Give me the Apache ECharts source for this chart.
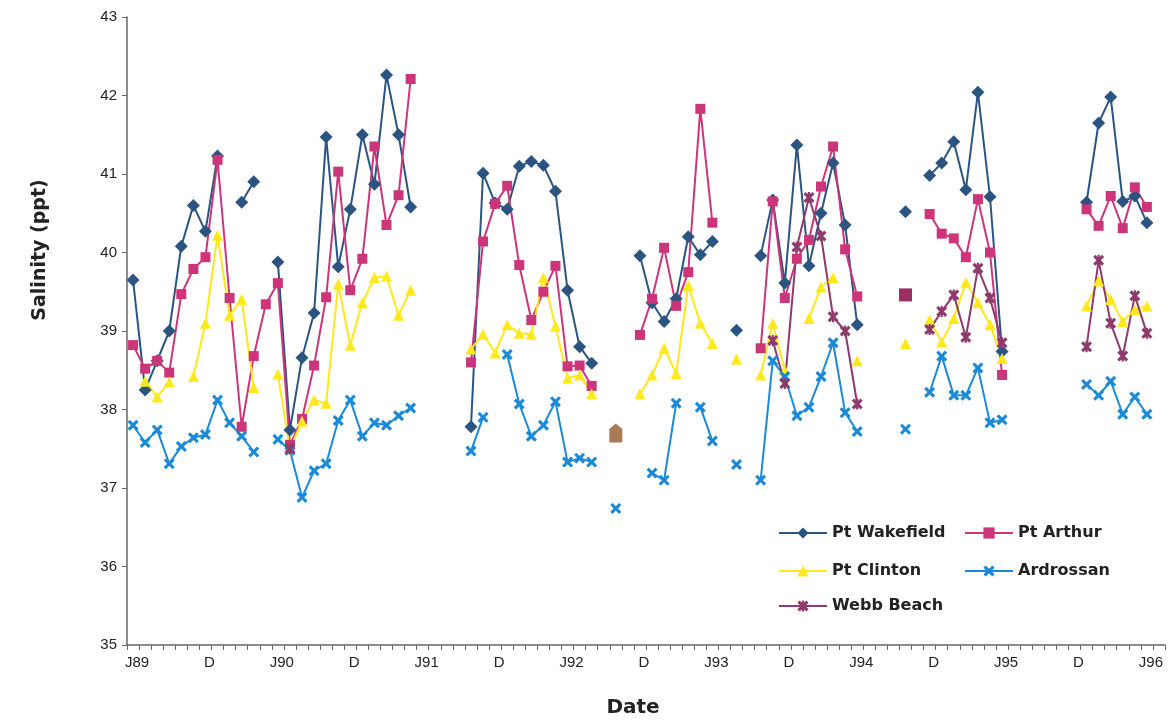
<!DOCTYPE html>
<html><head><meta charset="utf-8">
<script src="https://cdn.jsdelivr.net/npm/echarts@6/dist/echarts.min.js"></script>
<style>html,body{margin:0;padding:0;background:#fff}#c{width:1171px;height:725px}</style>
</head><body><div id="c"></div>
<script>
const N = null;
// Monthly categories, Jun 1989 .. Jul 1996
const categories = [
 'Jun-89','Jul-89','Aug-89','Sep-89','Oct-89','Nov-89','Dec-89',
 'Jan-90','Feb-90','Mar-90','Apr-90','May-90','Jun-90','Jul-90','Aug-90','Sep-90','Oct-90','Nov-90','Dec-90',
 'Jan-91','Feb-91','Mar-91','Apr-91','May-91','Jun-91','Jul-91','Aug-91','Sep-91','Oct-91','Nov-91','Dec-91',
 'Jan-92','Feb-92','Mar-92','Apr-92','May-92','Jun-92','Jul-92','Aug-92','Sep-92','Oct-92','Nov-92','Dec-92',
 'Jan-93','Feb-93','Mar-93','Apr-93','May-93','Jun-93','Jul-93','Aug-93','Sep-93','Oct-93','Nov-93','Dec-93',
 'Jan-94','Feb-94','Mar-94','Apr-94','May-94','Jun-94','Jul-94','Aug-94','Sep-94','Oct-94','Nov-94','Dec-94',
 'Jan-95','Feb-95','Mar-95','Apr-95','May-95','Jun-95','Jul-95','Aug-95','Sep-95','Oct-95','Nov-95','Dec-95',
 'Jan-96','Feb-96','Mar-96','Apr-96','May-96','Jun-96','Jul-96'
];
const tickLabels = ['J89','D','J90','D','J91','D','J92','D','J93','D','J94','D','J95','D','J96'];

const ptWakefield = [
 39.65,38.25,38.62,39.0,40.08,40.6,40.27,
 41.23,N,40.64,40.9,N,39.88,37.74,38.66,39.23,41.47,39.82,40.55,
 41.5,40.87,42.26,41.5,40.58,N,N,N,N,37.78,41.01,40.63,
 40.55,41.1,41.16,41.11,40.78,39.52,38.8,38.59,N,N,N,39.96,
 39.36,39.12,39.41,40.2,39.97,40.14,N,39.01,N,39.96,40.67,39.61,
 41.37,39.83,40.5,41.14,40.35,39.08,N,N,N,40.52,N,40.98,
 41.14,41.41,40.8,42.04,40.71,38.74,N,N,N,N,N,N,
 40.64,41.65,41.98,40.65,40.72,40.38,N
];
const ptArthur = [
 38.82,38.52,38.62,38.47,39.47,39.79,39.94,
 41.18,39.42,37.78,38.68,39.34,39.61,37.55,37.88,38.56,39.43,41.03,39.52,
 39.92,41.35,40.35,40.73,42.21,N,N,N,N,38.6,40.14,40.62,
 40.85,39.84,39.14,39.5,39.83,38.55,38.56,38.3,N,N,N,38.95,
 39.41,40.06,39.32,39.75,41.83,40.38,N,N,N,38.78,40.65,39.42,
 39.92,40.16,40.84,41.35,40.04,39.44,N,N,N,N,N,40.49,
 40.24,40.18,39.94,40.68,40.0,38.44,N,N,N,N,N,N,
 40.55,40.34,40.72,40.31,40.83,40.58,N
];
const ptClinton = [
 N,38.36,38.16,38.35,N,38.42,39.1,
 40.22,39.2,39.4,38.28,N,38.45,37.5,37.85,38.12,38.08,39.6,38.82,
 39.36,39.68,39.7,39.2,39.52,N,N,N,N,38.77,38.96,38.72,
 39.08,38.97,38.96,39.68,39.06,38.4,38.44,38.2,N,N,N,38.2,
 38.44,38.78,38.46,39.58,39.1,38.84,N,38.64,N,38.44,39.1,38.5,
 N,39.16,39.56,39.68,N,38.62,N,N,N,38.84,N,39.14,
 38.86,39.16,39.62,39.36,39.08,38.65,N,N,N,N,N,N,
 39.32,39.64,39.4,39.12,39.27,39.32,N
];
const ardrossan = [
 37.8,37.58,37.74,37.31,37.53,37.64,37.68,
 38.12,37.83,37.66,37.46,N,37.62,37.48,36.88,37.22,37.31,37.86,38.12,
 37.66,37.83,37.8,37.92,38.02,N,N,N,N,37.47,37.9,N,
 38.7,38.07,37.66,37.8,38.1,37.33,37.38,37.33,N,36.74,N,N,
 37.19,37.1,38.08,N,38.03,37.6,N,37.3,N,37.1,38.62,38.42,
 37.92,38.03,38.42,38.85,37.96,37.72,N,N,N,37.75,N,38.22,
 38.68,38.18,38.18,38.53,37.83,37.87,N,N,N,N,N,N,
 38.32,38.18,38.36,37.94,38.16,37.94,N
];
const webbBeach = [
 N,N,N,N,N,N,N,
 N,N,N,N,N,N,37.5,N,N,N,N,N,
 N,N,N,N,N,N,N,N,N,N,N,N,
 N,N,N,N,N,N,N,N,N,37.7,N,N,
 N,N,N,N,N,N,N,N,N,N,38.88,38.33,
 40.07,40.7,40.21,39.18,39.0,38.07,N,N,N,39.46,N,39.02,
 39.25,39.46,38.92,39.8,39.42,38.85,N,N,N,N,N,N,
 38.8,39.9,39.1,38.68,39.45,38.97,N
];

const X_PATH = 'path://M0,2L2,0L5,3L8,0L10,2L7,5L10,8L8,10L5,7L2,10L0,8L3,5Z';
const STAR_PATH = 'path://M0,2L2,0L5,3L8,0L10,2L7,5L10,8L8,10L5,7L2,10L0,8L3,5Z M4,0L6,0L6,10L4,10Z';
const HOUSE_PATH = 'path://M5,0L10,4L10,14L0,14L0,4Z';

// per-point marker overrides (styling only)
const webbSpecial = {
  40: {symbol: HOUSE_PATH, symbolSize: [13, 19], itemStyle: {color: '#a67b55'}},
  64: {symbol: 'rect', symbolSize: 13, itemStyle: {color: '#9a2f63'}}
};

function mk(name, data, color, symbol, size, special) {
  return {
    type: 'line', name: name,
    data: data.map((v, i) => (special && special[i] && v !== null) ? Object.assign({value: v}, special[i]) : v),
    symbol: symbol, symbolSize: size, showAllSymbol: true, showSymbol: true,
    connectNulls: false,
    lineStyle: {color: color, width: 2},
    itemStyle: {color: color},
    emphasis: {disabled: true},
    animation: false
  };
}

const chart = echarts.init(document.getElementById('c'), null, {renderer: 'canvas'});
const legendCommon = {
  itemWidth: 48, itemHeight: 14, itemGap: 0, padding: 0, selectedMode: false,
  textStyle: {fontFamily: 'DejaVu Sans', fontWeight: 'bold', fontSize: 16, color: '#222'}
};
chart.setOption({
  backgroundColor: '#fff',
  animation: false,
  grid: {left: 127, right: 6, top: 17, bottom: 80, containLabel: false},
  xAxis: {
    type: 'category', data: categories, boundaryGap: true,
    axisLine: {lineStyle: {color: '#666', width: 1.5}},
    axisTick: {show: true, interval: 0, length: 5, lineStyle: {color: '#666'}},
    axisLabel: {
      interval: (i) => i % 6 === 0,
      formatter: (v, i) => tickLabels[Math.round(i / 6)],
      fontFamily: 'Liberation Sans', fontSize: 15, color: '#222', margin: 10,
      padding: [0, 0, 0, 8]
    },
    splitLine: {show: false}
  },
  yAxis: {
    type: 'value', min: 35, max: 43, interval: 1,
    axisLine: {show: true, lineStyle: {color: '#666', width: 1.5}},
    axisTick: {show: true, length: 5, lineStyle: {color: '#666'}},
    axisLabel: {fontFamily: 'Liberation Sans', fontSize: 15, color: '#222', margin: 10},
    splitLine: {show: false}
  },
  legend: [
    Object.assign({data: ['Pt Wakefield'], left: 778, top: 525}, legendCommon),
    Object.assign({data: ['Pt Arthur'], left: 964, top: 525}, legendCommon),
    Object.assign({data: ['Pt Clinton'], left: 778, top: 563}, legendCommon),
    Object.assign({data: ['Ardrossan'], left: 964, top: 563}, legendCommon),
    Object.assign({data: ['Webb Beach'], left: 778, top: 598}, legendCommon)
  ],
  graphic: [
    {type: 'text', x: 633, y: 708, style: {text: 'Date', font: 'bold 20px "DejaVu Sans"', fill: '#222', align: 'center', verticalAlign: 'middle'}},
    {type: 'text', x: 40, y: 250, rotation: Math.PI / 2, style: {text: 'Salinity (ppt)', font: 'bold 19px "DejaVu Sans"', fill: '#222', align: 'center', verticalAlign: 'middle'}}
  ],
  series: [
    mk('Pt Wakefield', ptWakefield, '#2b5580', 'diamond', 13),
    mk('Pt Arthur', ptArthur, '#cc3579', 'rect', 10),
    mk('Pt Clinton', ptClinton, '#ffe81c', 'triangle', 11),
    mk('Ardrossan', ardrossan, '#1a8ad8', X_PATH, 11),
    mk('Webb Beach', webbBeach, '#8e3a6c', STAR_PATH, 11, webbSpecial)
  ]
});
</script>
</body></html>
